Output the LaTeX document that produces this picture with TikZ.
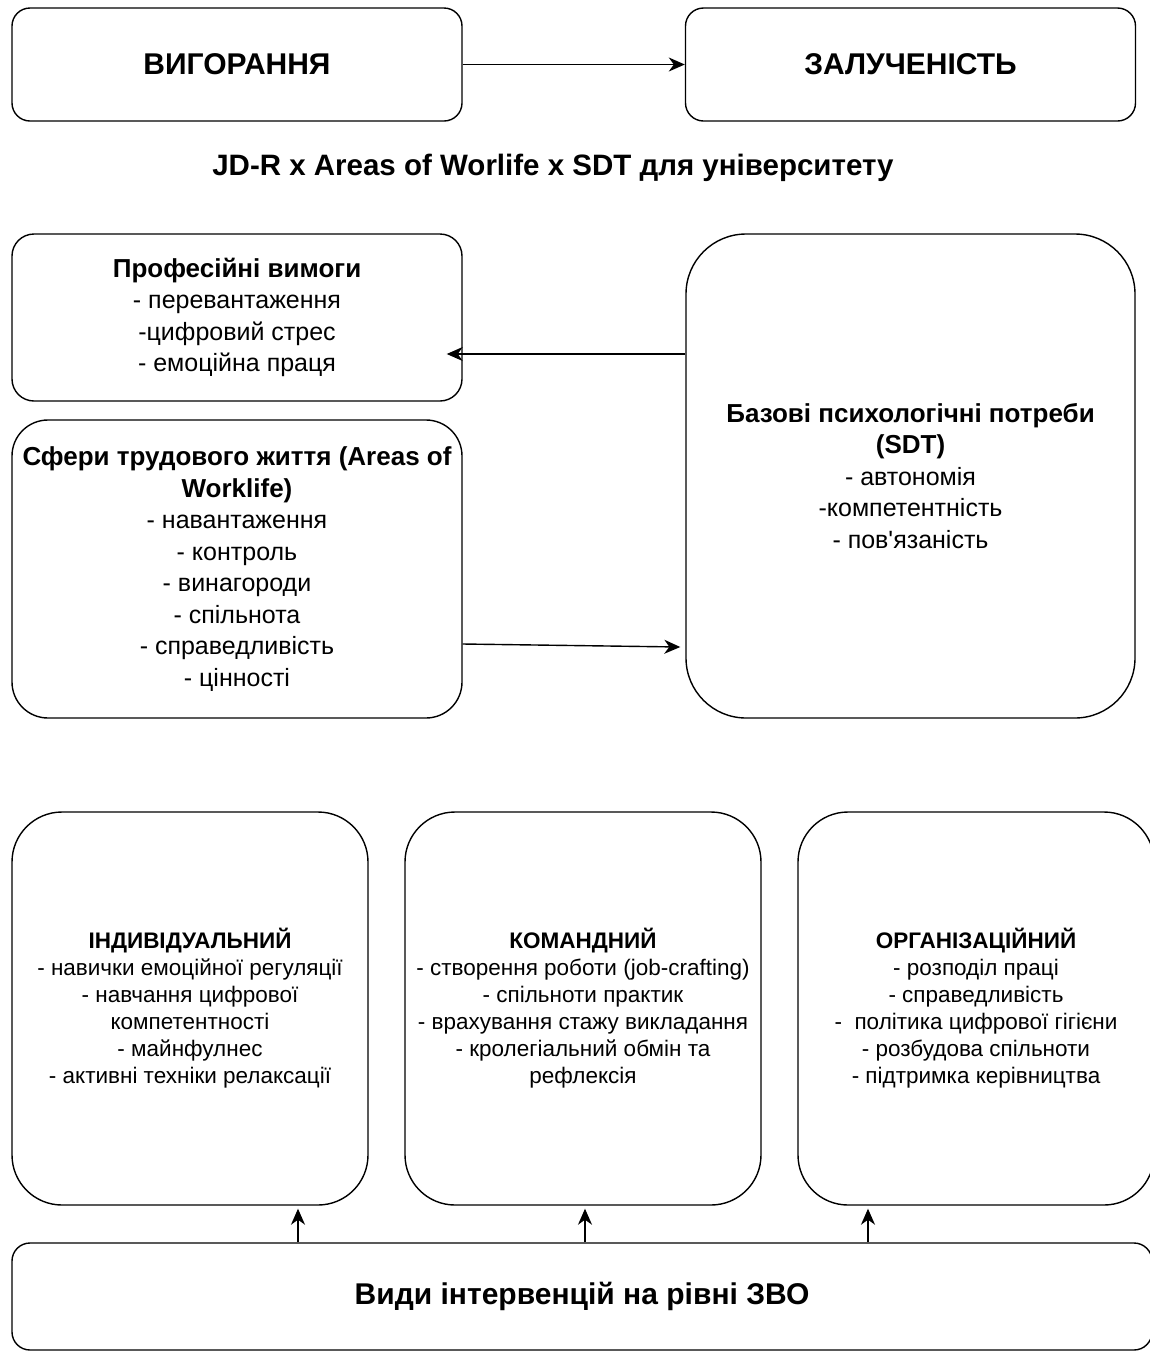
\documentclass[tikz,border=0pt]{standalone}
\usepackage{fontspec}
\setmainfont{Liberation Sans}[Ligatures=TeXOff]
\usetikzlibrary{arrows.meta,positioning}
\newcommand{\hd}[1]{{\fontsize{26}{31.5}\selectfont\bfseries #1}}
\begin{document}
\begin{tikzpicture}[x=1pt,y=-1pt]
	\tikzstyle{box} = [draw, line width=1.4pt, rectangle, align=center, inner sep=0pt]
	\tikzstyle{top} = [box, rounded corners=18pt, minimum width=450pt, minimum height=113pt, font=\fontsize{30}{36}\selectfont\bfseries]
	\tikzstyle{mid} = [box, minimum width=450pt, font=\fontsize{25}{31.5}\selectfont]
	\tikzstyle{lvl} = [box, rounded corners=50pt, minimum width=356pt, minimum height=393pt, font=\fontsize{22.5}{27}\selectfont]
	\tikzstyle{arr} = [line width=1.4pt, -{Stealth[length=16pt,width=14pt,inset=5pt]}]
	\useasboundingbox (0,0) rectangle (1150,1353);

	\node[top] (burn) at (237,64.5) {ВИГОРАННЯ};
	\node[top] (eng) at (910.5,64.5) {ЗАЛУЧЕНІСТЬ};
	\node[font=\fontsize{29.5}{34}\selectfont\bfseries] (title) at (553,168) {JD-R x Areas of Worlife x SDT для університету};

	\node[mid, rounded corners=22pt, minimum height=167pt] (prof) at (237,317.5)
		{\hd{Професійні вимоги}\\- перевантаження\\-цифровий стрес\\- емоційна праця};
	\node[mid, rounded corners=36pt, minimum height=298pt] (areas) at (237,569)
		{\hd{Сфери трудового життя (Areas of}\\\hd{Worklife)}\\- навантаження\\- контроль\\- винагороди\\- спільнота\\- справедливість\\- цінності};
	\node[mid, rounded corners=60pt, minimum width=449pt, minimum height=484pt] (needs) at (910.5,476)
		{\hd{Базові психологічні потреби}\\\hd{(SDT)}\\- автономія\\-компетентність\\- пов'язаність};

	\node[lvl] (indiv) at (190,1008.5)
		{\textbf{ІНДИВІДУАЛЬНИЙ}\\- навички емоційної регуляції\\- навчання цифрової\\компетентності\\- майнфулнес\\- активні техніки релаксації};
	\node[lvl] (team) [right=35.6pt of indiv]
		{\textbf{КОМАНДНИЙ}\\- створення роботи (job-crafting)\\- спільноти практик\\- врахування стажу викладання\\- кролегіальний обмін та\\рефлексія};
	\node[lvl] (org) [right=35.6pt of team]
		{\textbf{ОРГАНІЗАЦІЙНИЙ}\\- розподіл праці\\- справедливість\\-\ \ політика цифрової гігієни\\- розбудова спільноти\\- підтримка керівництва};

	\node[box, rounded corners=18pt, minimum width=1140pt, minimum height=107pt, font=\fontsize{30}{36}\selectfont\bfseries] (hei) at (582,1296.5) {Види інтервенцій на рівні ЗВО};

	\draw[arr] (burn) -- (eng);
	\draw[arr] ([yshift=122pt]needs.west) -- ([xshift=-16pt,yshift=-36.5pt]prof.east);
	\draw[arr] ([yshift=-75pt]areas.east) -- ([xshift=-5pt,yshift=-171pt]needs.west);

	\draw[arr] ([xshift=108pt]indiv.south |- hei.north) -- ([xshift=108pt,yshift=-3pt]indiv.south);
	\draw[arr] ([xshift=2pt]team.south |- hei.north) -- ([xshift=2pt,yshift=-3pt]team.south);
	\draw[arr] ([xshift=-108pt]org.south |- hei.north) -- ([xshift=-108pt,yshift=-3pt]org.south);
\end{tikzpicture}
\end{document}
